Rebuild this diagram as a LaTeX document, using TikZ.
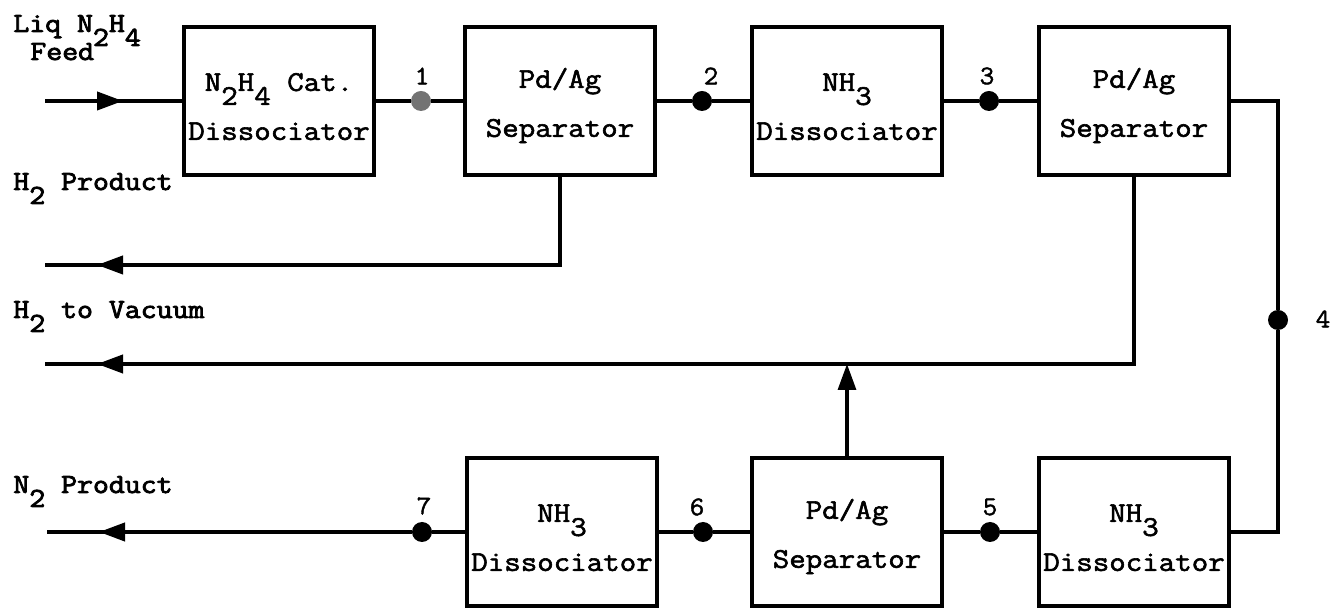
\documentclass[tikz,border=0pt]{standalone}
\usepackage{fontspec}
\newfontfamily\tw{Latin Modern Mono}[FakeStretch=1.12,FakeBold=2]
\newfontfamily\twn{Latin Modern Mono}[FakeStretch=1.05,FakeBold=1.5]
\newfontfamily\twb{Latin Modern Mono}[FakeStretch=1.12,FakeBold=3]
\usetikzlibrary{arrows.meta,decorations.markings}
\newcommand\lsub[1]{\raisebox{-7pt}{#1}}
\newcommand\topstrut{\rule{0pt}{14.5pt}}
\begin{document}
\begin{tikzpicture}[x=0.5pt,y=-0.5pt,
  box/.style={draw,line width=2pt,minimum width=95pt,minimum height=74pt,inner sep=0pt,align=center,
    font=\tw\fontsize{14.3}{24.5}\selectfont},
  dot/.style={circle,fill=black,inner sep=0pt,minimum size=10pt},
  num/.style={inner sep=0pt,font=\twn\fontsize{13.5}{13.5}\selectfont},
  lbl/.style={inner sep=0pt,anchor=base west,font=\twb\fontsize{13.8}{13.8}\selectfont},
  conn/.style={line width=1.6pt},
  outl/.style={line width=2pt},
  arrowat/.style={postaction={decorate},decoration={markings,
     mark=at position #1 with {\arrow{Triangle[length=13pt,width=9pt]}}}}
]
\fill[white] (0,0) rectangle (1339,608);
\useasboundingbox (0,0) rectangle (1339,608);

% top row
\node[box] (b1) at (279,101) {\topstrut N\lsub{2}H\lsub{4} Cat.\\Dissociator};
\node[box] (b2) at (560,101) {\topstrut Pd/Ag\\Separator};
\node[box] (b3) at (847,101) {\topstrut NH\lsub{3}\\Dissociator};
\node[box] (b4) at (1134,101) {\topstrut Pd/Ag\\Separator};
% bottom row
\node[box] (b7) at (562,532) {\topstrut NH\lsub{3}\\Dissociator};
\node[box] (b6) at (847,532) {\topstrut Pd/Ag\\Separator};
\node[box] (b5) at (1134,532) {\topstrut NH\lsub{3}\\Dissociator};

% dots
\node[dot,fill=black!55] (d1) at (421,101) {};
\node[dot] (d2) at (702,101) {};
\node[dot] (d3) at (989,101) {};
\node[dot] (d4) at (1278,320) {};
\node[dot] (d5) at (990,532) {};
\node[dot] (d6) at (703,532) {};
\node[dot] (d7) at (422,532) {};

% numbers
\node[num] (n1) at (422,76) {1};
\node[num] (n2) at (711,76) {2};
\node[num] (n3) at (987,76) {3};
\node[num] (n4) at (1323,319) {4};
\node[num] (n5) at (990,507) {5};
\node[num] (n6) at (697,507) {6};
\node[num] (n7) at (424,506) {7};

% side labels
\node[lbl] (lliq) at (13,32) {Liq N\lsub{2}H\lsub{4}};
\node[lbl] (lfeed) at (30,60) {Feed};
\node[lbl] (lh2p) at (13,190) {H\lsub{2} Product};
\node[lbl] (lh2v) at (13,318) {H\lsub{2} to Vacuum};
\node[lbl] (ln2p) at (13,493) {N\lsub{2} Product};

% free ends
\coordinate (feed) at (45,101);
\coordinate (h2p) at (45,265);
\coordinate (h2v) at (45,364);
\coordinate (n2p) at (47,532);

% connectors
\draw[outl,arrowat=39pt] (feed) -- (b1.west);
\draw[conn] (b1.east) -- (d1) -- (b2.west);
\draw[conn] (b2.east) -- (d2) -- (b3.west);
\draw[conn] (b3.east) -- (d3) -- (b4.west);
\draw[conn] (b4.east) -| (d4);
\draw[conn] (d4) |- (b5.east);
\draw[conn] (b5.west) -- (d5) -- (b6.east);
\draw[conn] (b6.west) -- (d6) -- (b7.east);
\draw[conn] (b7.west) -- (d7);
\draw[outl,arrowat=-26pt] (d7) -- (n2p);
\draw[outl,arrowat=-26pt] (b2.south) |- (h2p);
\draw[outl,arrowat=-26pt] (b4.south) |- (h2v);
\draw[conn,-{Triangle[length=13pt,width=9pt]}] (b6.north) -- (b6.north |- h2v);
\end{tikzpicture}
\end{document}
